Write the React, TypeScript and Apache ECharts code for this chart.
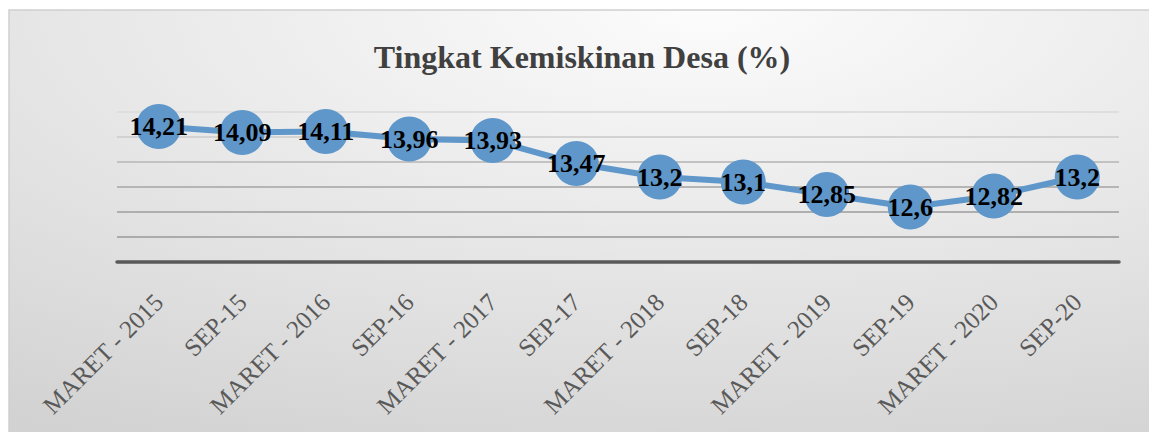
import React, { useEffect, useRef } from "react";
import * as echarts from "echarts";

const categories = [
  "MARET - 2015", "SEP-15", "MARET - 2016", "SEP-16", "MARET - 2017", "SEP-17",
  "MARET - 2018", "SEP-18", "MARET - 2019", "SEP-19", "MARET - 2020", "SEP-20",
];
const values = [14.21, 14.09, 14.11, 13.96, 13.93, 13.47, 13.2, 13.1, 12.85, 12.6, 12.82, 13.2];
const titleText = "Tingkat Kemiskinan Desa (%)";

const SERIF = "'Times New Roman', 'Liberation Serif', 'DejaVu Serif', serif";

export default function App() {
  const ref = useRef<HTMLDivElement>(null);
  useEffect(() => {
    document.body.style.margin = "0";
    const chart = echarts.init(ref.current!, null, { renderer: "svg" });
    chart.setOption({
      animation: false,
      graphic: [
        {
          type: "rect",
          z: -10,
          silent: true,
          shape: { x: 9, y: 10, width: 1160, height: 440 },
          style: {
            fill: {
              type: "radial",
              x: 0.6,
              y: 0,
              r: 1.1,
              colorStops: [
                { offset: 0, color: "#fcfcfc" },
                { offset: 1, color: "#d2d2d2" },
              ],
            },
            stroke: "#cfcfcf",
            lineWidth: 1.5,
          },
        },
        {
          type: "text",
          x: 582,
          y: 57,
          style: {
            text: titleText,
            fontSize: 32,
            fontWeight: "bold",
            fontFamily: SERIF,
            fill: "#404040",
            align: "center",
            verticalAlign: "middle",
          },
        },
      ],
      grid: { left: 117, right: 30, top: 112, bottom: 170 },
      xAxis: {
        type: "category",
        data: categories,
        boundaryGap: true,
        axisTick: { show: false },
        axisLine: { lineStyle: { color: "#595959", width: 3.5 } },
        axisLabel: {
          rotate: 45,
          fontSize: 25,
          fontFamily: SERIF,
          color: "#595959",
          margin: 36,
          interval: 0,
        },
        z: 5,
      },
      yAxis: {
        type: "value",
        min: 11.5,
        max: 14.5,
        interval: 0.5,
        axisLabel: { show: false },
        axisLine: { show: false },
        axisTick: { show: false },
        splitLine: {
          lineStyle: {
            width: 2,
            color: ["#a8a8a8", "#ababab", "#afafaf", "#b5b5b5", "#c2c2c2", "#d2d2d2", "#dedede"],
          },
        },
      },
      series: [
        {
          type: "line",
          data: values,
          symbol: "circle",
          symbolSize: 45,
          itemStyle: { color: "#5f97ca" },
          lineStyle: { color: "#5f97ca", width: 6 },
          label: {
            show: true,
            position: "inside",
            fontSize: 26,
            fontWeight: "bold",
            fontFamily: SERIF,
            color: "#000",
            formatter: (p: any) => String(p.value).replace(".", ","),
          },
          z: 10,
        },
      ],
    });
    return () => chart.dispose();
  }, []);
  return <div ref={ref} style={{ width: 1149, height: 432 }} />;
}
